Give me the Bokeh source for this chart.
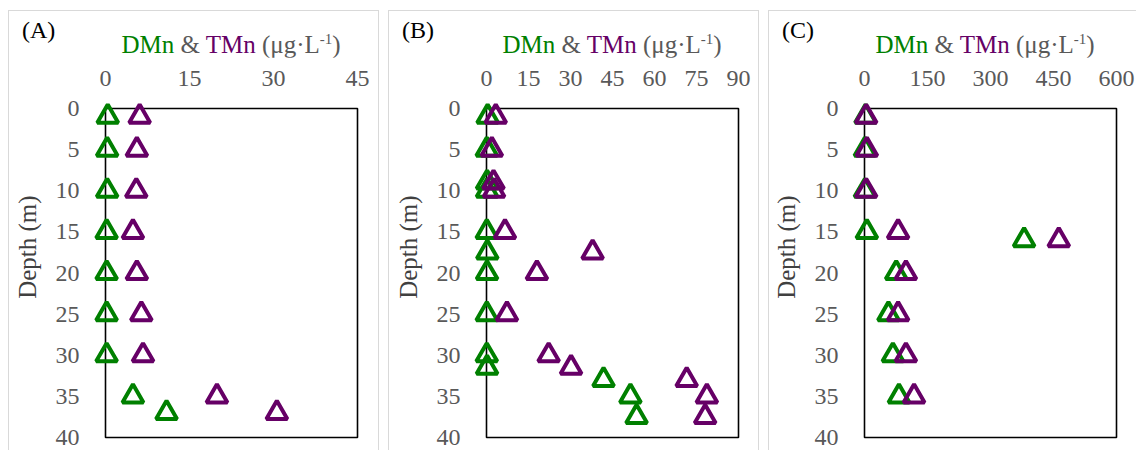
from bokeh.plotting import figure
from bokeh.models import Range1d, FixedTicker, BoxAnnotation, Div
from bokeh.layouts import row, column
from bokeh.embed import file_html
from bokeh.resources import INLINE

# ---------------- data ----------------
# Panel A
a_dmn_depth = [1, 5, 10, 15, 20, 25, 30, 35, 37]
a_dmn = [0.4, 0.3, 0.3, 0.2, 0.2, 0.2, 0.2, 4.9, 10.9]
a_tmn_depth = [1, 5, 10, 15, 20, 25, 30, 35, 37]
a_tmn = [6.1, 5.6, 5.5, 4.9, 5.6, 6.4, 6.7, 19.9, 30.6]

# Panel B
b_dmn_depth = [1, 5, 9, 10, 15, 17.5, 20, 25, 30, 31.5, 33, 35, 37.5]
b_dmn = [0.4, 0.1, 0.2, 0.2, 0.1, 0.3, 0.2, 0.1, 0.1, 0.2, 41.8, 51.4, 53.6]
b_tmn_depth = [1, 5, 9, 10, 15, 17.5, 20, 25, 30, 31.5, 33, 35, 37.5]
b_tmn = [3.3, 1.9, 2.5, 2.7, 6.6, 37.9, 18.0, 7.3, 22.2, 30.2, 71.5, 78.7, 78.1]

# Panel C
c_dmn_depth = [1, 5, 10, 15, 16, 20, 25, 30, 35]
c_dmn = [2.4, 1.0, 1.0, 5.6, 380.0, 75.5, 57.0, 67.6, 82.0]
c_tmn_depth = [1, 5, 10, 15, 16, 20, 25, 30, 35]
c_tmn = [4.0, 5.6, 4.0, 80.0, 462.6, 98.6, 80.0, 98.6, 118.0]

panel_letters = ["(A)", "(B)", "(C)"]
x_maxes = [45, 90, 600]
x_ticks = [[0, 15, 30, 45], [0, 15, 30, 45, 60, 75, 90], [0, 150, 300, 450, 600]]
depth_ticks = [0, 5, 10, 15, 20, 25, 30, 35, 40]
depth_max = 40
y_label = "Depth (m)"

GREEN = "#008000"
PURPLE = "#660066"
GRAY = "#595959"
FONT = "Liberation Serif"

BOX_W, BOX_H = 252, 329          # size of the black plot box in px
PAD_L, PAD_R, PAD_T, PAD_B = 13, 2, 10, 2   # room so markers are not clipped
HEAD_H = 46                      # height of the heading strip


def make_panel(letter, xmax, xticks, dd, dv, td, tv, left_border, panel_w, margin):
    fw = BOX_W + PAD_L + PAD_R
    fh = BOX_H + PAD_T + PAD_B
    x0 = -PAD_L / BOX_W * xmax
    x1 = xmax * (1 + PAD_R / BOX_W)
    y_top = -PAD_T / BOX_H * depth_max
    y_bot = depth_max * (1 + PAD_B / BOX_H)
    right_border = panel_w - left_border - fw

    p = figure(frame_width=fw, frame_height=fh,
               min_border_left=left_border, min_border_right=right_border,
               min_border_top=41, min_border_bottom=11,
               x_range=Range1d(x0, x1), y_range=Range1d(y_bot, y_top),
               x_axis_location="above",
               output_backend="svg", toolbar_location=None,
               background_fill_color="white", border_fill_color="white",
               margin=0)
    p.grid.visible = False
    p.outline_line_color = None

    p.add_layout(BoxAnnotation(left=0, right=xmax, top=0, bottom=depth_max,
                               fill_color=None, fill_alpha=0,
                               line_color="black", line_alpha=1.0,
                               line_width=1.6, level="underlay"))

    xa = p.xaxis[0]
    xa.ticker = FixedTicker(ticks=xticks)
    ya = p.yaxis[0]
    ya.ticker = FixedTicker(ticks=depth_ticks)
    ya.axis_label = "\u00a0" * 7 + y_label
    for ax in (xa, ya):
        ax.axis_line_color = None
        ax.major_tick_line_color = None
        ax.minor_tick_line_color = None
        ax.major_tick_out = 0
        ax.major_tick_in = 0
        ax.minor_tick_out = 0
        ax.major_label_text_font = FONT
        ax.major_label_text_font_size = "24px"
        ax.major_label_text_color = GRAY
        ax.axis_label_text_font = FONT
        ax.axis_label_text_font_size = "25px"
        ax.axis_label_text_font_style = "normal"
        ax.axis_label_text_color = "#404040"
    xa.major_label_standoff = 13
    ya.major_label_standoff = 13
    ya.axis_label_standoff = 12

    p.scatter(dv, dd, marker="triangle", size=21, fill_color=None,
              line_color=GREEN, line_width=4)
    p.scatter(tv, td, marker="triangle", size=21, fill_color=None,
              line_color=PURPLE, line_width=4)

    box_left = left_border + PAD_L
    head = Div(
        text=(
            f'<div style="position:relative;width:{panel_w}px;height:{HEAD_H}px;'
            f"font-family:'{FONT}';\">"
            f'<span style="position:absolute;left:13px;top:7px;font-size:24px;'
            f'line-height:24px;color:black;white-space:nowrap;">{letter}</span>'
            f'<div style="position:absolute;left:{box_left}px;top:21px;width:{BOX_W}px;'
            f'text-align:center;font-size:25px;line-height:25px;white-space:nowrap;color:{GRAY};">'
            f'<span style="color:{GREEN}">DMn</span> &amp; '
            f'<span style="color:{PURPLE}">TMn</span> (\u03bcg\u00b7L'
            f'<sup style="font-size:15px;line-height:0;">-1</sup>)</div></div>'
        ),
        width=panel_w, height=HEAD_H, margin=0)

    col = column(head, p, spacing=0, margin=margin,
                 styles={"border-top": "1px solid #d9d9d9",
                         "border-left": "1px solid #d9d9d9",
                         "border-right": "1px solid #d9d9d9"})
    return col


pa = make_panel(panel_letters[0], x_maxes[0], x_ticks[0], a_dmn_depth, a_dmn,
                a_tmn_depth, a_tmn, 83, 369, (10, 0, 0, 8))
pb = make_panel(panel_letters[1], x_maxes[1], x_ticks[1], b_dmn_depth, b_dmn,
                b_tmn_depth, b_tmn, 84, 369, (10, 0, 0, 9))
pc = make_panel(panel_letters[2], x_maxes[2], x_ticks[2], c_dmn_depth, c_dmn,
                c_tmn_depth, c_tmn, 77, 365, (10, 0, 0, 9))

layout = row(pa, pb, pc, spacing=0)
open("out.html", "w").write(file_html(layout, INLINE))
